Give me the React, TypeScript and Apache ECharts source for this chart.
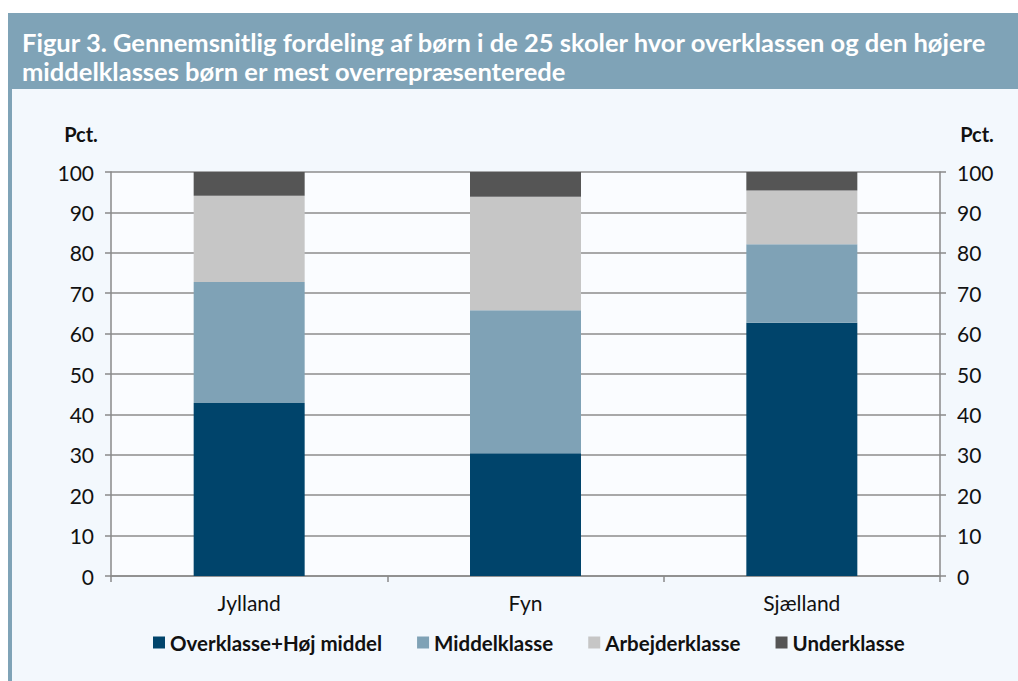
import React, { useEffect, useRef } from "react";
import * as echarts from "echarts";

const categories = ["Jylland", "Fyn", "Sjælland"];
const seriesNames = ["Overklasse+Høj middel", "Middelklasse", "Arbejderklasse", "Underklasse"];
const overklasse = [42.8, 30.4, 62.7];
const middelklasse = [30.0, 35.4, 19.4];
const arbejderklasse = [21.3, 28.1, 13.3];
const underklasse = [5.9, 6.1, 4.6];
const colors = ["#00446B", "#7FA2B6", "#C6C6C6", "#555555"];
const titleLines = [
  "Figur 3. Gennemsnitlig fordeling af børn i de 25 skoler hvor overklassen og den højere",
  "middelklasses børn er mest overrepræsenterede",
];
const axisUnit = "Pct.";

export default function App() {
  const ref = useRef<HTMLDivElement>(null);
  useEffect(() => {
    if (!ref.current) return;
    const chart = echarts.init(ref.current, null, { renderer: "svg" });
    const values = [overklasse, middelklasse, arbejderklasse, underklasse];
    const yAxisCommon = {
      type: "value",
      min: 0,
      max: 100,
      interval: 10,
      axisLine: { show: true, lineStyle: { color: "#8a8a8a", width: 1.5 } },
      axisTick: { show: true, length: 6, lineStyle: { color: "#8a8a8a", width: 1.5 } },
      axisLabel: { fontFamily: "Lato", fontSize: 21, color: "#111", margin: 17 },
    };
    chart.setOption({
      animation: false,
      backgroundColor: "#ffffff",
      graphic: [
        { type: "rect", z: -10, shape: { x: 8, y: 13, width: 1010, height: 668 }, style: { fill: "#F3F8FD" } },
        { type: "rect", z: -9, shape: { x: 8, y: 13, width: 1010, height: 76 }, style: { fill: "#7FA3B7" } },
        { type: "rect", z: -9, shape: { x: 8, y: 13, width: 4, height: 668 }, style: { fill: "#7FA3B7" } },
        {
          type: "text",
          x: 22,
          y: 42,
          style: { text: titleLines[0], font: "bold 25.5px Lato", fill: "#ffffff", textVerticalAlign: "middle" },
        },
        {
          type: "text",
          x: 22,
          y: 71,
          style: { text: titleLines[1], font: "bold 25.5px Lato", fill: "#ffffff", textVerticalAlign: "middle" },
        },
        {
          type: "text",
          x: 81,
          y: 134,
          style: { text: axisUnit, font: "bold 20px Lato", fill: "#111", textAlign: "center", textVerticalAlign: "middle" },
        },
        {
          type: "text",
          x: 977,
          y: 134,
          style: { text: axisUnit, font: "bold 20px Lato", fill: "#111", textAlign: "center", textVerticalAlign: "middle" },
        },
      ],
      grid: {
        left: 111,
        right: 78,
        top: 172,
        bottom: 105,
        show: true,
        backgroundColor: "#FAFCFF",
        borderWidth: 0,
      },
      legend: {
        left: 148,
        top: 627,
        itemWidth: 12,
        itemHeight: 12,
        itemGap: 35,
        icon: "rect",
        textStyle: { fontFamily: "Lato", fontWeight: "bold", fontSize: 20.5, color: "#111" },
        data: seriesNames,
      },
      xAxis: {
        type: "category",
        data: categories,
        axisLine: { lineStyle: { color: "#8a8a8a", width: 1.5 } },
        axisTick: { show: true, length: 6, alignWithLabel: false, lineStyle: { color: "#8a8a8a", width: 1.5 } },
        axisLabel: { fontFamily: "Lato", fontSize: 21, color: "#111", margin: 16 },
      },
      yAxis: [
        {
          ...yAxisCommon,
          position: "left",
          splitLine: { show: true, lineStyle: { color: "#8c8c8c", width: 1.5 } },
        },
        {
          ...yAxisCommon,
          position: "right",
          splitLine: { show: false },
        },
      ],
      series: seriesNames.map((name, i) => ({
        name,
        type: "bar",
        stack: "total",
        barWidth: 111,
        yAxisIndex: 0,
        itemStyle: { color: colors[i] },
        data: values[i],
      })),
    });
    return () => chart.dispose();
  }, []);
  return (
    <div
      ref={ref}
      style={{ position: "absolute", left: 0, top: 0, width: 1018, height: 681 }}
    />
  );
}
